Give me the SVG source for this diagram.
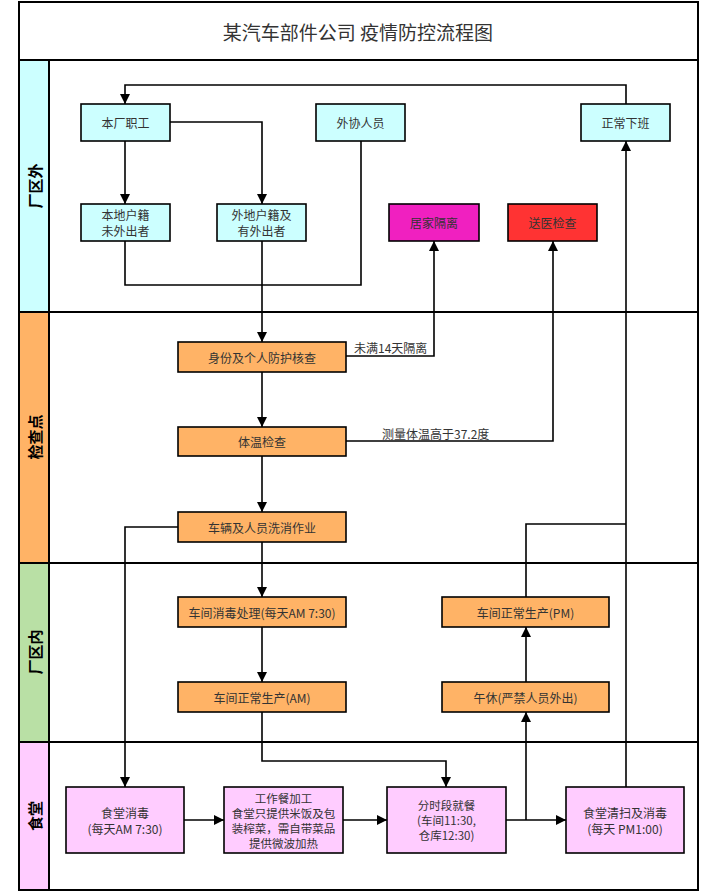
<svg xmlns="http://www.w3.org/2000/svg" width="703" height="892" viewBox="0 0 703 892">
<style>
.lane{stroke:#000;stroke-width:2}
.hd{font-family:"Noto Sans CJK SC","Liberation Sans",sans-serif;font-size:15px;font-weight:bold;fill:#000;text-anchor:middle;dominant-baseline:central}
.n rect{stroke:#000;stroke-width:1.6}
.n text,.lbl{font-family:"Noto Sans CJK SC","Liberation Sans",sans-serif;font-size:12px;fill:#333;text-anchor:middle;dominant-baseline:central}
.n text.s{font-size:11.5px}
.lbl{text-anchor:start}
.c{fill:#CCFFFF}.o{fill:#FFB366}.p{fill:#FFCCFF}
#edges path{fill:none;stroke:#000;stroke-width:1.6}
</style>
<defs>
<marker id="ah" viewBox="0 0 10 10" refX="10" refY="5" markerWidth="10" markerHeight="10" markerUnits="userSpaceOnUse" orient="auto">
<path d="M0,0 L10,5 L0,10 z" fill="#000"/>
</marker>
</defs>
<rect width="703" height="892" fill="#fff"/>
<g id="title">
<rect x="19" y="2" width="679" height="58" fill="#fff" class="lane"/>
<text x="358" y="31" font-family="Noto Sans CJK SC,Liberation Sans,sans-serif" font-size="19" fill="#333" text-anchor="middle" dominant-baseline="central">某汽车部件公司 疫情防控流程图</text>
</g>
<g id="lanes">
<rect x="19" y="60" width="30" height="252" class="lane c"/>
<rect x="49" y="60" width="649" height="252" class="lane" fill="#fff"/>
<text class="hd" transform="translate(34,186) rotate(-90)">厂区外</text>
<rect x="19" y="312" width="30" height="251" class="lane o"/>
<rect x="49" y="312" width="649" height="251" class="lane" fill="#fff"/>
<text class="hd" transform="translate(34,437) rotate(-90)">检查点</text>
<rect x="19" y="563" width="30" height="179" class="lane" fill="#B9E0A5"/>
<rect x="49" y="563" width="649" height="179" class="lane" fill="#fff"/>
<text class="hd" transform="translate(34,652) rotate(-90)">厂区内</text>
<rect x="19" y="742" width="30" height="148" class="lane p"/>
<rect x="49" y="742" width="649" height="148" class="lane" fill="#fff"/>
<text class="hd" transform="translate(34,816) rotate(-90)">食堂</text>
</g>
<g id="edges">
<path d="M626,104 V85 H125 V104" marker-end="url(#ah)"/>
<path d="M125,141 V204" marker-end="url(#ah)"/>
<path d="M170,122 H262 V204" marker-end="url(#ah)"/>
<path d="M125,241 V285 H361 V141"/>
<path d="M262,241 V342" marker-end="url(#ah)"/>
<path d="M262,372 V427" marker-end="url(#ah)"/>
<path d="M262,456 V512" marker-end="url(#ah)"/>
<path d="M346,356 H434 V241" marker-end="url(#ah)"/>
<path d="M346,441 H553 V241" marker-end="url(#ah)"/>
<path d="M178,527 H125 V787" marker-end="url(#ah)"/>
<path d="M262,542 V597" marker-end="url(#ah)"/>
<path d="M262,627 V682" marker-end="url(#ah)"/>
<path d="M262,712 V761 H446 V787" marker-end="url(#ah)"/>
<path d="M184,820 H224" marker-end="url(#ah)"/>
<path d="M343,820 H387" marker-end="url(#ah)"/>
<path d="M506,820 H566" marker-end="url(#ah)"/>
<path d="M526,820 V712" marker-end="url(#ah)"/>
<path d="M526,682 V627" marker-end="url(#ah)"/>
<path d="M526,597 V524 H626"/>
<path d="M626,787 V141" marker-end="url(#ah)"/>
<text class="lbl" x="354" y="347">未满14天隔离</text>
<text class="lbl" x="382" y="433">测量体温高于37.2度</text>
</g>
<g id="n1" class="n"><rect x="81" y="104" width="89" height="37" class="c"/><text x="125.5" y="122.5">本厂职工</text></g>
<g id="n2" class="n"><rect x="316" y="104" width="89" height="37" class="c"/><text x="360.5" y="122.5">外协人员</text></g>
<g id="n3" class="n"><rect x="581" y="104" width="89" height="37" class="c"/><text x="625.5" y="122.5">正常下班</text></g>
<g id="n4" class="n"><rect x="81" y="204" width="89" height="37" class="c"/><text x="125.5" y="214.5">本地户籍</text><text x="125.5" y="230.5">未外出者</text></g>
<g id="n5" class="n"><rect x="217" y="204" width="89" height="37" class="c"/><text x="261.5" y="214.5">外地户籍及</text><text x="261.5" y="230.5">有外出者</text></g>
<g id="n6" class="n"><rect x="389" y="204" width="90" height="37" fill="#F020C0"/><text x="434" y="222.5">居家隔离</text></g>
<g id="n7" class="n"><rect x="508" y="204" width="89" height="37" fill="#FF3333"/><text x="552.5" y="222.5">送医检查</text></g>
<g id="n8" class="n"><rect x="178" y="342" width="168" height="30" class="o"/><text x="262" y="357">身份及个人防护核查</text></g>
<g id="n9" class="n"><rect x="178" y="427" width="168" height="29" class="o"/><text x="262" y="441.5">体温检查</text></g>
<g id="n10" class="n"><rect x="178" y="512" width="168" height="30" class="o"/><text x="262" y="527">车辆及人员洗消作业</text></g>
<g id="n11" class="n"><rect x="178" y="597" width="168" height="30" class="o"/><text x="262" y="612">车间消毒处理(每天AM 7:30)</text></g>
<g id="n12" class="n"><rect x="178" y="682" width="168" height="30" class="o"/><text x="262" y="697">车间正常生产(AM)</text></g>
<g id="n13" class="n"><rect x="442" y="597" width="167" height="30" class="o"/><text x="525.5" y="612">车间正常生产(PM)</text></g>
<g id="n14" class="n"><rect x="442" y="682" width="167" height="30" class="o"/><text x="525.5" y="697">午休(严禁人员外出)</text></g>
<g id="n15" class="n"><rect x="66" y="787" width="118" height="66" class="p"/><text x="125" y="812">食堂消毒</text><text x="125" y="828">(每天AM 7:30)</text></g>
<g id="n16" class="n"><rect x="224" y="787" width="119" height="66" class="p"/><text class="s" x="283.5" y="797.5">工作餐加工</text><text class="s" x="283.5" y="812.5">食堂只提供米饭及包</text><text class="s" x="283.5" y="827.5">装榨菜，需自带菜品</text><text class="s" x="283.5" y="842.5">提供微波加热</text></g>
<g id="n17" class="n"><rect x="387" y="787" width="119" height="66" class="p"/><text class="s" x="446.5" y="805">分时段就餐</text><text class="s" x="446.5" y="820">(车间11:30,</text><text class="s" x="446.5" y="835">仓库12:30)</text></g>
<g id="n18" class="n"><rect x="566" y="787" width="118" height="66" class="p"/><text x="625" y="812">食堂清扫及消毒</text><text x="625" y="828">(每天 PM1:00)</text></g>
</svg>
